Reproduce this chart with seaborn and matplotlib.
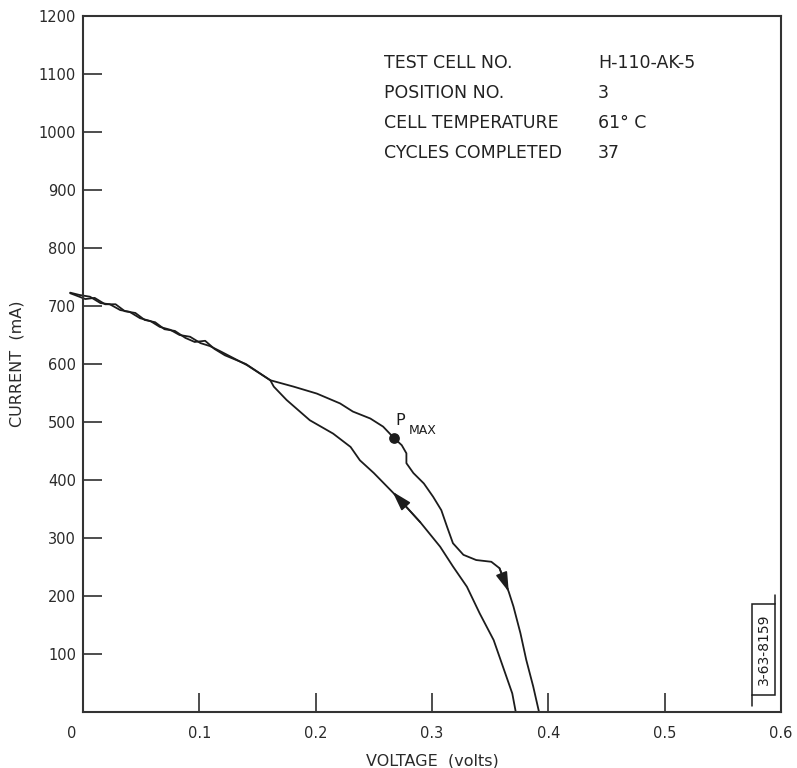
import numpy as np
import pandas as pd
import matplotlib
matplotlib.use("Agg")
import matplotlib.pyplot as plt
import matplotlib.transforms as mtransforms
from matplotlib.patches import Rectangle
import seaborn as sns

# ---- data ----
# outgoing sweep (arrow pointing down), volts / mA
fwd_v = [-0.011, -0.003, 0.006, 0.015, 0.023, 0.032, 0.040, 0.049, 0.058, 0.066,
         0.075, 0.083, 0.092, 0.101, 0.109, 0.118, 0.141, 0.161, 0.181, 0.201,
         0.221, 0.232, 0.247, 0.258, 0.267, 0.274, 0.278, 0.278, 0.284, 0.293,
         0.301, 0.308, 0.313, 0.318, 0.327, 0.338, 0.351, 0.358, 0.366, 0.370,
         0.376, 0.381, 0.387, 0.392]
fwd_i = [723, 719, 716, 705, 703, 693, 690, 679, 674, 664,
         659, 650, 647, 636, 631, 622, 598, 572, 561, 549,
         532, 518, 506, 492, 473, 460, 446, 429, 412, 394,
         371, 348, 319, 291, 271, 262, 259, 248, 207, 182,
         136, 90, 44, 0]
# return sweep (arrow pointing up)
ret_v = [0.372, 0.369, 0.361, 0.353, 0.341, 0.330, 0.318, 0.307, 0.290, 0.270,
         0.250, 0.238, 0.230, 0.215, 0.195, 0.175, 0.164, 0.161, 0.140, 0.122,
         0.113, 0.105, 0.096, 0.088, 0.079, 0.070, 0.062, 0.053, 0.045, 0.036,
         0.028, 0.019, 0.010, 0.002, -0.007, -0.011]
ret_i = [0, 32, 78, 124, 170, 216, 251, 285, 327, 371,
         412, 434, 457, 480, 503, 538, 561, 572, 600, 615,
         626, 640, 638, 645, 657, 660, 672, 676, 688, 691,
         703, 703, 714, 712, 719, 722]
pmax_v, pmax_i = 0.267, 473

x_ticks = [0, 0.1, 0.2, 0.3, 0.4, 0.5, 0.6]
x_labels = ["0", "0.1", "0.2", "0.3", "0.4", "0.5", "0.6"]
y_ticks = [100, 200, 300, 400, 500, 600, 700, 800, 900, 1000, 1100, 1200]
y_labels = [str(t) for t in y_ticks]

info_keys = ["TEST CELL NO.", "POSITION NO.", "CELL TEMPERATURE", "CYCLES COMPLETED"]
info_vals = ["H-110-AK-5", "3", "61\u00b0 C", "37"]
stamp_text = "3-63-8159"

# ---- figure ----
sns.set_style("ticks")
plt.rcParams["font.family"] = ["DejaVu Sans"]
ink = "#1c1c1c"

fig = plt.figure(figsize=(7.97, 7.68), dpi=100)
ax = fig.add_axes([83 / 797, 1 - 712 / 768, 698 / 797, 696 / 768])

df_f = pd.DataFrame({"v": fwd_v, "i": fwd_i})
df_r = pd.DataFrame({"v": ret_v, "i": ret_i})
sns.lineplot(data=df_f, x="v", y="i", sort=False, estimator=None, ax=ax,
             color=ink, lw=1.3, clip_on=False)
sns.lineplot(data=df_r, x="v", y="i", sort=False, estimator=None, ax=ax,
             color=ink, lw=1.3, clip_on=False)

# direction arrows
aprops = dict(arrowstyle="-|>,head_length=1.0,head_width=0.3", color=ink,
              lw=1.2, shrinkA=0, shrinkB=0, mutation_scale=12)
ax.annotate("", xy=(fwd_v[38], fwd_i[38]), xytext=(fwd_v[37], fwd_i[37]),
            arrowprops=aprops)
ax.annotate("", xy=(0.266, 380), xytext=(ret_v[8], ret_i[8]),
            arrowprops=aprops)

# P_MAX point
ax.scatter([pmax_v], [pmax_i], s=45, color=ink, zorder=5)
ax.annotate("P", xy=(pmax_v, pmax_i), xytext=(5, 12), textcoords="offset points",
            fontsize=11.5, color=ink, ha="center", va="center")
ax.annotate("MAX", xy=(pmax_v, pmax_i), xytext=(21, 5), textcoords="offset points",
            fontsize=9, color=ink, ha="center", va="center")

ax.set_xlim(0, 0.6)
ax.set_ylim(0, 1200)
ax.set_xticks(x_ticks)
ax.set_xticklabels(x_labels)
ax.set_yticks(y_ticks)
ax.set_yticklabels(y_labels)
ax.tick_params(axis="both", direction="in", length=14, width=1.1, color=ink,
               labelsize=10.5, labelcolor="#2a2a2a")
ax.tick_params(axis="y", pad=5)
ax.tick_params(axis="x", pad=10)
# shift the "0" label left of the origin as in the reference
lbl0 = ax.get_xticklabels()[0]
lbl0.set_transform(lbl0.get_transform() +
                   mtransforms.ScaledTranslation(-11 / 100, 0, fig.dpi_scale_trans))

for s in ax.spines.values():
    s.set_color("#333333")
    s.set_linewidth(1.5)
    s.set_visible(True)

ax.set_xlabel("VOLTAGE  (volts)", fontsize=11.5, color="#2a2a2a", labelpad=9)
ax.set_ylabel("CURRENT  (mA)", fontsize=11.5, color="#2a2a2a", labelpad=10)

# info block
for k, (key, val) in enumerate(zip(info_keys, info_vals)):
    yy = 1 - (63 + 30 * k - 16) / 696
    ax.text((384 - 83) / 698, yy, key, transform=ax.transAxes, fontsize=12.5,
            color="#222222", ha="left", va="center")
    ax.text((598 - 83) / 698, yy, val, transform=ax.transAxes, fontsize=12.5,
            color="#222222", ha="left", va="center")

# drawing-number stamp
bx0, bx1 = (752 - 83) / 698, (775 - 83) / 698
by0, by1 = (712 - 695) / 696, (712 - 604) / 696
ax.add_patch(Rectangle((bx0, by0), bx1 - bx0, by1 - by0, transform=ax.transAxes,
                       fill=False, ec=ink, lw=1.1, clip_on=False))
ax.plot([bx0, bx0], [(712 - 706) / 696, by0], transform=ax.transAxes, color=ink,
        lw=1.1, clip_on=False)
ax.plot([bx1, bx1], [by1, (712 - 595) / 696], transform=ax.transAxes, color=ink,
        lw=1.1, clip_on=False)
ax.text((bx0 + bx1) / 2, (by0 + by1) / 2, stamp_text, transform=ax.transAxes,
        rotation=90, fontsize=10, color=ink, ha="center", va="center")

fig.savefig("out.png", dpi=100, facecolor="white")
